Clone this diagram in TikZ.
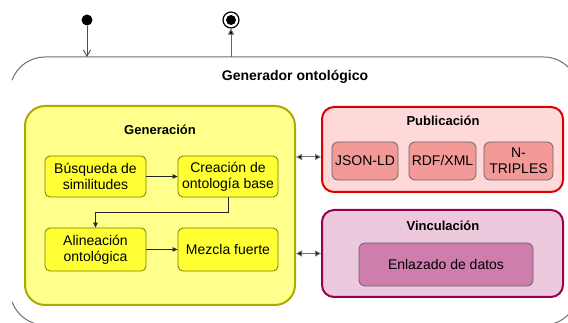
\documentclass[tikz,border=0pt]{standalone}
\usepackage{fontspec}
\setmainfont{Liberation Sans}
\usetikzlibrary{arrows.meta,calc}
\definecolor{genfill}{HTML}{FFFF8C}
\definecolor{gendraw}{HTML}{ABAB00}
\definecolor{ylwfill}{HTML}{FFFF33}
\definecolor{ylwdraw}{HTML}{7A7A00}
\definecolor{pubfill}{HTML}{FFD9D9}
\definecolor{pubdraw}{HTML}{DD0000}
\definecolor{pubin}{HTML}{F39A98}
\definecolor{vinfill}{HTML}{EDC9DE}
\definecolor{vindraw}{HTML}{990050}
\definecolor{vinin}{HTML}{CE7DAC}
\definecolor{outerdraw}{HTML}{707070}
\tikzset{
  x=1pt,y=1pt,
  txt/.style={font=\fontsize{14}{16}\selectfont, align=center, inner sep=0pt},
  ttl/.style={font=\fontsize{13}{15}\selectfont\bfseries, inner sep=0pt},
  grp/.style={draw, line width=2pt, inner sep=0pt},
  ybox/.style={txt, draw=ylwdraw, fill=ylwfill, line width=0.8pt, rounded corners=5pt, minimum width=101pt},
  pbox/.style={txt, draw=black!60, fill=pubin, line width=0.8pt, rounded corners=6pt, minimum height=38pt},
  conn/.style={draw=black!85, line width=0.8pt, -{Triangle[length=5pt,width=4.5pt]}},
  dconn/.style={draw=black!55, line width=1pt, {Triangle[length=6pt,width=6pt,fill=black]}-{Triangle[length=6pt,width=6pt,fill=black]}},
}
\begin{document}
\begin{tikzpicture}
\useasboundingbox (0,0) rectangle (568,323);
\clip (0,0) rectangle (568,323);
% outer container (partially visible)
\draw[outerdraw, line width=1pt] (12,242.7) arc[start angle=160.5, end angle=90, radius=35]
  -- (543.5,266) arc[start angle=90, end angle=0, radius=35]
  -- (578.5,33) arc[start angle=0, end angle=-90, radius=35]
  -- (45,-2) arc[start angle=270, end angle=199.5, radius=35];
\node[font=\fontsize{14}{16}\selectfont\bfseries, inner sep=0pt] (title) at (295,246) {Generador ontológico};
% start / end
\node[circle, fill=black, minimum size=11pt, inner sep=0pt] (start) at (87,303) {};
\coordinate (inpt) at (87,266);
\draw[black!70, line width=0.9pt, -{Straight Barb[length=6pt,width=7pt]}] (start) -- (inpt);
\node[circle, draw=black, line width=1.2pt, minimum size=16pt, inner sep=0pt] (endr) at (231,303) {};
\node[circle, fill=black, minimum size=10pt, inner sep=0pt] (endd) at (231,303) {};
\coordinate (outpt) at (231,266);
\draw[black!60, line width=0.9pt, -{Triangle[length=6pt,width=6pt,fill=black]}] (outpt) -- (endr);
% Generacion
\node[grp, draw=gendraw, fill=genfill, rounded corners=20pt, minimum width=270pt, minimum height=199pt] (gen) at (160,117.5) {};
\node[ttl] (gent) at (160,193) {Generación};
\node[ybox, minimum height=41pt] (bus) at (95.5,146.5) {Búsqueda de\\similitudes};
\node[ybox, minimum height=41pt, minimum width=100pt] (cre) at (228,146.5) {Creación de\\ontología base};
\node[ybox, minimum height=43pt] (ali) at (95.5,73.5) {Alineación\\ontológica};
\node[ybox, minimum height=43pt, minimum width=100pt] (mez) at (228,73.5) {Mezcla fuerte};
\draw[conn] (bus) -- (cre);
\draw[conn] (cre.south) -- ++(0,-15) -| (ali.north);
\draw[conn] (ali) -- (mez);
% Publicacion
\node[grp, draw=pubdraw, fill=pubfill, rounded corners=12pt, minimum width=241pt, minimum height=85pt] (pub) at (442.5,173.5) {};
\node[ttl] (pubt) at (443,202) {Publicación};
\node[pbox, minimum width=66pt] (json) at (365,162) {JSON-LD};
\node[pbox, minimum width=67pt] (rdf) at (442.5,162) {RDF/XML};
\node[pbox, minimum width=69pt] (ntr) at (518.5,162) {N-\\TRIPLES};
% Vinculacion
\node[grp, draw=vindraw, fill=vinfill, rounded corners=12pt, minimum width=241pt, minimum height=87pt] (vin) at (442.5,69.5) {};
\node[ttl] (vint) at (443,97) {Vinculación};
\node[txt, draw=black!60, fill=vinin, line width=0.8pt, rounded corners=6pt, minimum width=174pt, minimum height=43pt] (enl) at (446,58.5) {Enlazado de datos};
% connections
\draw[dconn] ([yshift=4pt]gen.east |- json) -- ([yshift=4pt]pub.west |- json);
\draw[dconn] (gen.east |- vin) -- (vin.west);
\end{tikzpicture}
\end{document}
